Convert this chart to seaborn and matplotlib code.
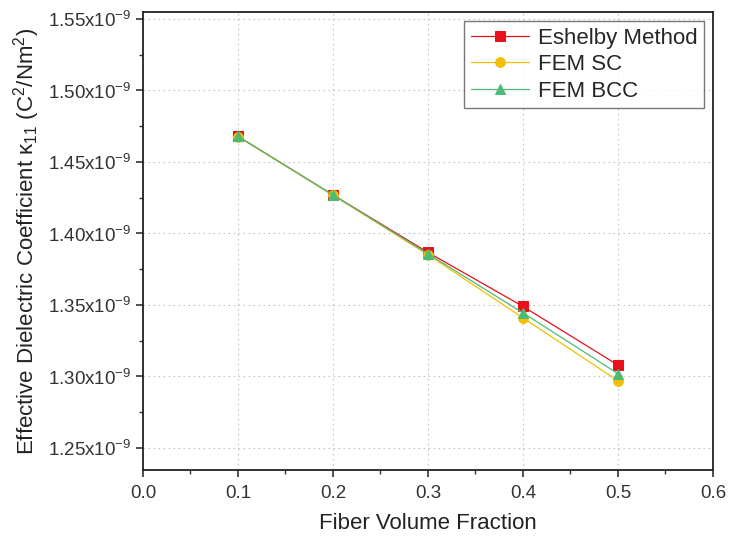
import matplotlib
matplotlib.use("Agg")
import matplotlib.pyplot as plt
import seaborn as sns
import pandas as pd
from matplotlib.ticker import MultipleLocator, FuncFormatter

fraction = [0.1, 0.2, 0.3, 0.4, 0.5]
eshelby = [1.4680, 1.4270, 1.3868, 1.3490, 1.3080]
fem_sc = [1.4678, 1.4268, 1.3852, 1.3410, 1.2970]
fem_bcc = [1.4679, 1.4270, 1.3858, 1.3445, 1.3020]
series_names = ["Eshelby Method", "FEM SC", "FEM BCC"]
colors = ["#E8101A", "#F2C000", "#4DBB78"]
markers = ["s", "o", "^"]

sns.set_theme(style="white")
plt.rcParams["font.family"] = ["Liberation Sans", "DejaVu Sans"]
plt.rcParams["mathtext.fontset"] = "custom"
plt.rcParams["mathtext.rm"] = "Liberation Sans"
plt.rcParams["mathtext.it"] = "Liberation Sans:italic"

df = pd.DataFrame({
    "x": fraction * 3,
    "y": eshelby + fem_sc + fem_bcc,
    "series": [series_names[0]] * 5 + [series_names[1]] * 5 + [series_names[2]] * 5,
})

fig = plt.figure(figsize=(7.29, 5.44), dpi=100)
ax = fig.add_axes([0.196, 0.136, 0.782, 0.842])

for name, c, m in zip(series_names, colors, markers):
    sub = df[df["series"] == name]
    sns.lineplot(data=sub, x="x", y="y", ax=ax, color=c, marker=m,
                 markersize=7, markeredgecolor=c, linewidth=0.9, label=name)

ax.set_xlim(0.0, 0.6)
ax.set_ylim(1.2346, 1.5549)
ax.xaxis.set_major_locator(MultipleLocator(0.1))
ax.xaxis.set_minor_locator(MultipleLocator(0.05))
ax.yaxis.set_major_locator(MultipleLocator(0.05))
ax.yaxis.set_minor_locator(MultipleLocator(0.025))
ax.xaxis.set_major_formatter(FuncFormatter(lambda v, p: f"{v:.1f}"))
ax.yaxis.set_major_formatter(FuncFormatter(lambda v, p: f"{v:.2f}x10$^{{-9}}$"))

ax.tick_params(axis="both", which="major", direction="out", length=5, width=1.2,
               labelsize=13.5, colors="#333333", bottom=True, left=True, top=False, right=False)
ax.tick_params(axis="both", which="minor", direction="out", length=3, width=1.0,
               bottom=True, left=True, top=False, right=False, colors="#333333")
ax.tick_params(axis="x", which="major", pad=6)
for s in ax.spines.values():
    s.set_color("#222222")
    s.set_linewidth(1.3)

ax.grid(True, which="major", linestyle=(0, (1.5, 3)), color="#c4c4c4", linewidth=0.8)

ax.set_xlabel("Fiber Volume Fraction", fontsize=16, color="#222222", labelpad=8)
ax.set_ylabel("Effective Dielectric Coefficient κ$_{11}$ (C$^2$/Nm$^2$)",
              fontsize=16, color="#222222", labelpad=4)

leg = ax.legend(loc="upper right", fontsize=16, frameon=True, fancybox=False,
                edgecolor="#555555", borderaxespad=0.4, handlelength=2.6,
                handletextpad=0.4, labelspacing=0.25, borderpad=0.3)
leg.get_frame().set_linewidth(1.0)

fig.savefig("out.png", dpi=100)
